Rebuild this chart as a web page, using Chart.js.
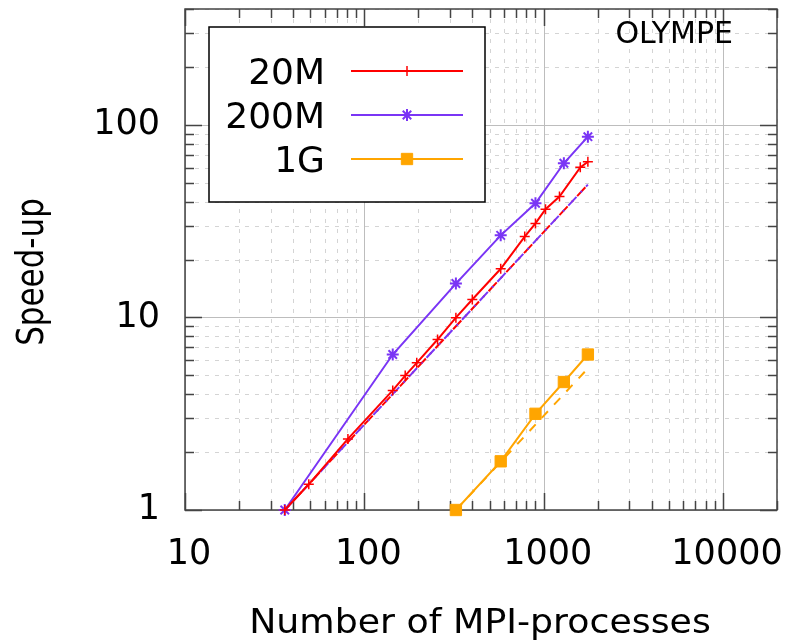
<html>
<head>
    <script src="https://cdn.jsdelivr.net/npm/chart.js"></script>
</head>
<body style="margin:0; background:#fff">
    <div style="width:788px; height:642px">
        <canvas id="myChart" width="788" height="642"></canvas>
    </div>
    <script>
        // data (speed-up vs number of MPI processes)
        const procs20M = [36, 49, 81, 144, 169, 196, 256, 324, 400, 576, 784, 900, 1024, 1225, 1600, 1764];
        const speed20M = [1, 1.36, 2.34, 4.18, 4.99, 5.81, 7.68, 9.98, 12.4, 17.9, 26.3, 30.8, 36.5, 42.5, 60.2, 64.4];
        const procs200M = [36, 144, 324, 576, 900, 1296, 1764];
        const speed200M = [1, 6.42, 15.0, 26.7, 39.2, 63.2, 86.9];
        const procs1G = [324, 576, 900, 1296, 1764];
        const speed1G = [1, 1.79, 3.16, 4.62, 6.42];
        // ideal lines
        const idealProcs = [36, 1764];
        const idealSpeed = [1, 49];
        const ideal1GProcs = [324, 1764];
        const ideal1GSpeed = [1, 5.44];

        const seriesLabels = ['20M', '200M', '1G'];
        const xTickLabels = [10, 100, 1000, 10000];
        const yTickLabels = [1, 10, 100];

        const RED = '#ff0000', PURPLE = '#7a35f5', ORANGE = '#ffa500';
        const FONT = "'DejaVu Sans'";

        const pts = (xs, ys) => xs.map((x, i) => ({ x: x, y: ys[i] }));

        // gnuplot-like frame: grid, mirrored ticks, border
        const frame = {
            id: 'frame',
            beforeDatasetsDraw(chart) {
                const ctx = chart.ctx;
                const { left, right, top, bottom } = chart.chartArea;
                const xs = chart.scales.x, ys = chart.scales.y;
                const xVals = [], yVals = [];
                for (let d = 10; d <= 10000; d *= 10)
                    for (let k = 1; k <= 9; k++) if (d * k <= xs.max) xVals.push([d * k, k === 1]);
                for (let d = 1; d <= 100; d *= 10)
                    for (let k = 1; k <= 9; k++) if (d * k <= ys.max) yVals.push([d * k, k === 1]);

                ctx.save();
                ctx.lineWidth = 1;
                // minor grid
                ctx.strokeStyle = '#d4d4d4';
                ctx.setLineDash([4, 6]);
                ctx.beginPath();
                xVals.forEach(([v, major]) => {
                    if (major) return;
                    const p = Math.round(xs.getPixelForValue(v)) + 0.5;
                    ctx.moveTo(p, top); ctx.lineTo(p, bottom);
                });
                yVals.forEach(([v, major]) => {
                    if (major) return;
                    const p = Math.round(ys.getPixelForValue(v)) + 0.5;
                    ctx.moveTo(left, p); ctx.lineTo(right, p);
                });
                ctx.stroke();
                // major grid
                ctx.setLineDash([]);
                ctx.strokeStyle = '#bdbdbd';
                ctx.beginPath();
                xVals.forEach(([v, major]) => {
                    if (!major) return;
                    const p = Math.round(xs.getPixelForValue(v)) + 0.5;
                    ctx.moveTo(p, top); ctx.lineTo(p, bottom);
                });
                yVals.forEach(([v, major]) => {
                    if (!major) return;
                    const p = Math.round(ys.getPixelForValue(v)) + 0.5;
                    ctx.moveTo(left, p); ctx.lineTo(right, p);
                });
                ctx.stroke();
                // ticks on all four sides
                ctx.strokeStyle = '#444';
                ctx.lineWidth = 1.5;
                ctx.beginPath();
                xVals.forEach(([v, major]) => {
                    const p = Math.round(xs.getPixelForValue(v)) + 0.5;
                    const len = major ? 17 : 9;
                    ctx.moveTo(p, bottom); ctx.lineTo(p, bottom - len);
                    ctx.moveTo(p, top); ctx.lineTo(p, top + len);
                });
                yVals.forEach(([v, major]) => {
                    const p = Math.round(ys.getPixelForValue(v)) + 0.5;
                    const len = major ? 17 : 9;
                    ctx.moveTo(left, p); ctx.lineTo(left + len, p);
                    ctx.moveTo(right, p); ctx.lineTo(right - len, p);
                });
                ctx.stroke();
                ctx.strokeRect(left, top, right - left, bottom - top);
                ctx.restore();
            },
            afterDatasetsDraw(chart) {
                const ctx = chart.ctx;
                ctx.save();
                // legend box
                ctx.fillStyle = '#fff';
                ctx.fillRect(209, 27, 276, 175);
                ctx.strokeStyle = '#000';
                ctx.lineWidth = 1.5;
                ctx.strokeRect(209, 27, 276, 175);
                const rowsY = [71, 115, 159];
                ctx.font = '36px ' + FONT;
                ctx.textAlign = 'right';
                ctx.textBaseline = 'alphabetic';
                chart.data.datasets.slice(0, 3).forEach((ds, i) => {
                    const y = rowsY[i];
                    ctx.fillStyle = '#000';
                    ctx.fillText(seriesLabels[i], 325, y + 13);
                    ctx.strokeStyle = ds.borderColor;
                    ctx.lineWidth = 2;
                    ctx.beginPath();
                    ctx.moveTo(351, y); ctx.lineTo(463, y);
                    ctx.stroke();
                    ctx.fillStyle = ds.pointBackgroundColor;
                    ctx.strokeStyle = ds.borderColor;
                    ctx.lineWidth = ds.pointBorderWidth;
                    Chart.helpers.drawPoint(ctx, {
                        pointStyle: ds.pointStyle, radius: ds.pointRadius,
                        borderWidth: ds.pointBorderWidth, rotation: 0
                    }, 407, y);
                });
                // label inside plot
                ctx.fillStyle = '#000';
                ctx.font = '30px ' + FONT;
                ctx.textAlign = 'right';
                ctx.fillText('OLYMPE', 733, 43);
                ctx.restore();
            },
            afterDraw(chart) {
                const ctx = chart.ctx;
                ctx.save();
                ctx.fillStyle = '#000';
                ctx.textAlign = 'center';
                ctx.textBaseline = 'alphabetic';
                // x title
                ctx.font = '33px ' + FONT;
                ctx.translate(480, 633);
                ctx.scale(1.1, 1);
                ctx.fillText('Number of MPI-processes', 0, 0);
                ctx.restore();
                ctx.save();
                ctx.fillStyle = '#000';
                ctx.textAlign = 'center';
                ctx.font = '31px ' + FONT;
                ctx.translate(43, 272);
                ctx.scale(1.2, 1);
                ctx.rotate(-Math.PI / 2);
                ctx.fillText('Speed-up', 0, 0);
                ctx.restore();
            }
        };

        new Chart(document.getElementById('myChart'), {
            type: 'line',
            data: {
                datasets: [
                    {
                        label: seriesLabels[0], data: pts(procs20M, speed20M),
                        borderColor: RED, backgroundColor: RED, pointBackgroundColor: RED,
                        borderWidth: 2, pointStyle: 'cross', pointRadius: 5, pointBorderWidth: 1.5, clip: false
                    },
                    {
                        label: seriesLabels[1], data: pts(procs200M, speed200M),
                        borderColor: PURPLE, backgroundColor: PURPLE, pointBackgroundColor: PURPLE,
                        borderWidth: 2, pointStyle: 'star', pointRadius: 6, pointBorderWidth: 2, clip: false
                    },
                    {
                        label: seriesLabels[2], data: pts(procs1G, speed1G),
                        borderColor: ORANGE, backgroundColor: ORANGE, pointBackgroundColor: ORANGE,
                        borderWidth: 2, pointStyle: 'rect', pointRadius: 8, pointBorderWidth: 1, clip: false
                    },
                    {
                        label: 'ideal', data: pts(idealProcs, idealSpeed),
                        borderColor: PURPLE, borderWidth: 2, borderDash: [12, 6, 2, 6], pointRadius: 0
                    },
                    {
                        label: 'ideal', data: pts(idealProcs, idealSpeed),
                        borderColor: RED, borderWidth: 2, borderDash: [12, 6, 2, 6], borderDashOffset: 13, pointRadius: 0
                    },
                    {
                        label: 'ideal 1G', data: pts(ideal1GProcs, ideal1GSpeed),
                        borderColor: ORANGE, borderWidth: 2, borderDash: [9, 9], pointRadius: 0
                    }
                ]
            },
            options: {
                responsive: false,
                animation: false,
                devicePixelRatio: 1,
                layout: { padding: { top: 8, right: 11, left: 0, bottom: 0 } },
                plugins: { legend: { display: false }, tooltip: { enabled: false } },
                scales: {
                    x: {
                        type: 'logarithmic', min: 10, max: 20000,
                        grid: { display: false, drawTicks: false },
                        border: { display: false },
                        afterFit: s => { s.height = 132; s.paddingLeft = 0; s.paddingRight = 0; },
                        ticks: {
                            autoSkip: false, maxRotation: 0, padding: 24, labelOffset: 4,
                            color: '#000', font: { family: FONT, size: 35 },
                            callback: v => xTickLabels.includes(v) ? String(v) : ''
                        }
                    },
                    y: {
                        type: 'logarithmic', min: 1, max: 400,
                        grid: { display: false, drawTicks: false },
                        border: { display: false },
                        afterFit: s => { s.width = 185; s.paddingTop = 0; s.paddingBottom = 0; },
                        ticks: {
                            autoSkip: false, padding: 25,
                            color: '#000', font: { family: FONT, size: 35 },
                            callback: v => yTickLabels.includes(v) ? String(v) : ''
                        }
                    }
                }
            },
            plugins: [frame]
        });
    </script>
</body>
</html>
